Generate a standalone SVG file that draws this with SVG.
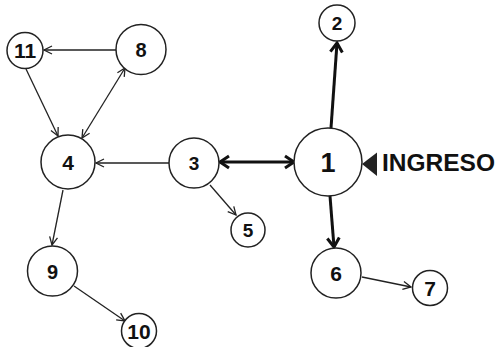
<svg xmlns="http://www.w3.org/2000/svg" width="496" height="347" viewBox="0 0 496 347">
<style>
.n circle{fill:#fff;stroke:#222;stroke-width:1.5}
.n text{font-family:"Liberation Sans",Arial,sans-serif;font-weight:bold;fill:#111;text-anchor:middle}
.e{stroke:#222;stroke-width:1.3;fill:none}
.t{stroke:#111;stroke-width:3;fill:none}
</style>
<defs>
<marker id="a" markerUnits="userSpaceOnUse" markerWidth="12" markerHeight="12" viewBox="-10 -6 12 12" refX="0" refY="0" orient="auto-start-reverse">
<path d="M-8,-4 L0,0 L-8,4" fill="none" stroke="#222" stroke-width="1.3"/>
</marker>
<marker id="b" markerUnits="userSpaceOnUse" markerWidth="16" markerHeight="16" viewBox="-12 -8 16 16" refX="0" refY="0" orient="auto-start-reverse">
<path d="M-9,-6 L0,0 L-9,6" fill="none" stroke="#111" stroke-width="3"/>
</marker>
</defs>
<rect width="496" height="347" fill="#fff"/>
<g id="connectors">
<line class="e" x1="116" y1="50" x2="44" y2="50" marker-end="url(#a)"/>
<line class="e" x1="26" y1="69" x2="58" y2="136" marker-end="url(#a)"/>
<line class="e" x1="82" y1="138" x2="125" y2="68" marker-start="url(#a)" marker-end="url(#a)"/>
<line class="e" x1="169" y1="163" x2="96" y2="163" marker-end="url(#a)"/>
<line class="t" x1="220" y1="162" x2="294" y2="162" marker-start="url(#b)" marker-end="url(#b)"/>
<line class="t" x1="331" y1="128" x2="337" y2="43" marker-end="url(#b)"/>
<line class="t" x1="330" y1="196" x2="334" y2="247" marker-end="url(#b)"/>
<line class="e" x1="210" y1="185" x2="236" y2="215" marker-end="url(#a)"/>
<line class="e" x1="63" y1="190" x2="52" y2="245" marker-end="url(#a)"/>
<line class="e" x1="74" y1="286" x2="125" y2="321" marker-end="url(#a)"/>
<line class="e" x1="362" y1="277" x2="411" y2="287" marker-end="url(#a)"/>
</g>
<g id="node1" class="n"><circle cx="328" cy="162" r="34"/><text x="328" y="172" font-size="27">1</text></g>
<g id="node2" class="n"><circle cx="337" cy="23" r="18"/><text x="337" y="30" font-size="19">2</text></g>
<g id="node3" class="n"><circle cx="194" cy="163" r="25"/><text x="194" y="170" font-size="19">3</text></g>
<g id="node4" class="n"><circle cx="68" cy="162" r="27"/><text x="68" y="170" font-size="21">4</text></g>
<g id="node5" class="n"><circle cx="248" cy="230" r="17"/><text x="248" y="237" font-size="19">5</text></g>
<g id="node6" class="n"><circle cx="336" cy="273" r="25"/><text x="336" y="280.5" font-size="21">6</text></g>
<g id="node7" class="n"><circle cx="430" cy="288" r="17.5"/><text x="430" y="295.5" font-size="21">7</text></g>
<g id="node8" class="n"><circle cx="141" cy="49.5" r="25"/><text x="141" y="56.5" font-size="20">8</text></g>
<g id="node9" class="n"><circle cx="52.5" cy="271" r="25"/><text x="52.5" y="278.5" font-size="20">9</text></g>
<g id="node10" class="n"><circle cx="139" cy="331" r="17.5"/><text x="139" y="338.5" font-size="21">10</text></g>
<g id="node11" class="n"><circle cx="25" cy="50.5" r="18"/><text x="25" y="58" font-size="21">11</text></g>
<g id="ingreso">
<polygon points="362,164 377,152.5 377,176" fill="#222"/>
<text x="382" y="171" font-family="Liberation Sans,Arial,sans-serif" font-weight="bold" font-size="24.5" fill="#111">INGRESO</text>
</g>
</svg>
